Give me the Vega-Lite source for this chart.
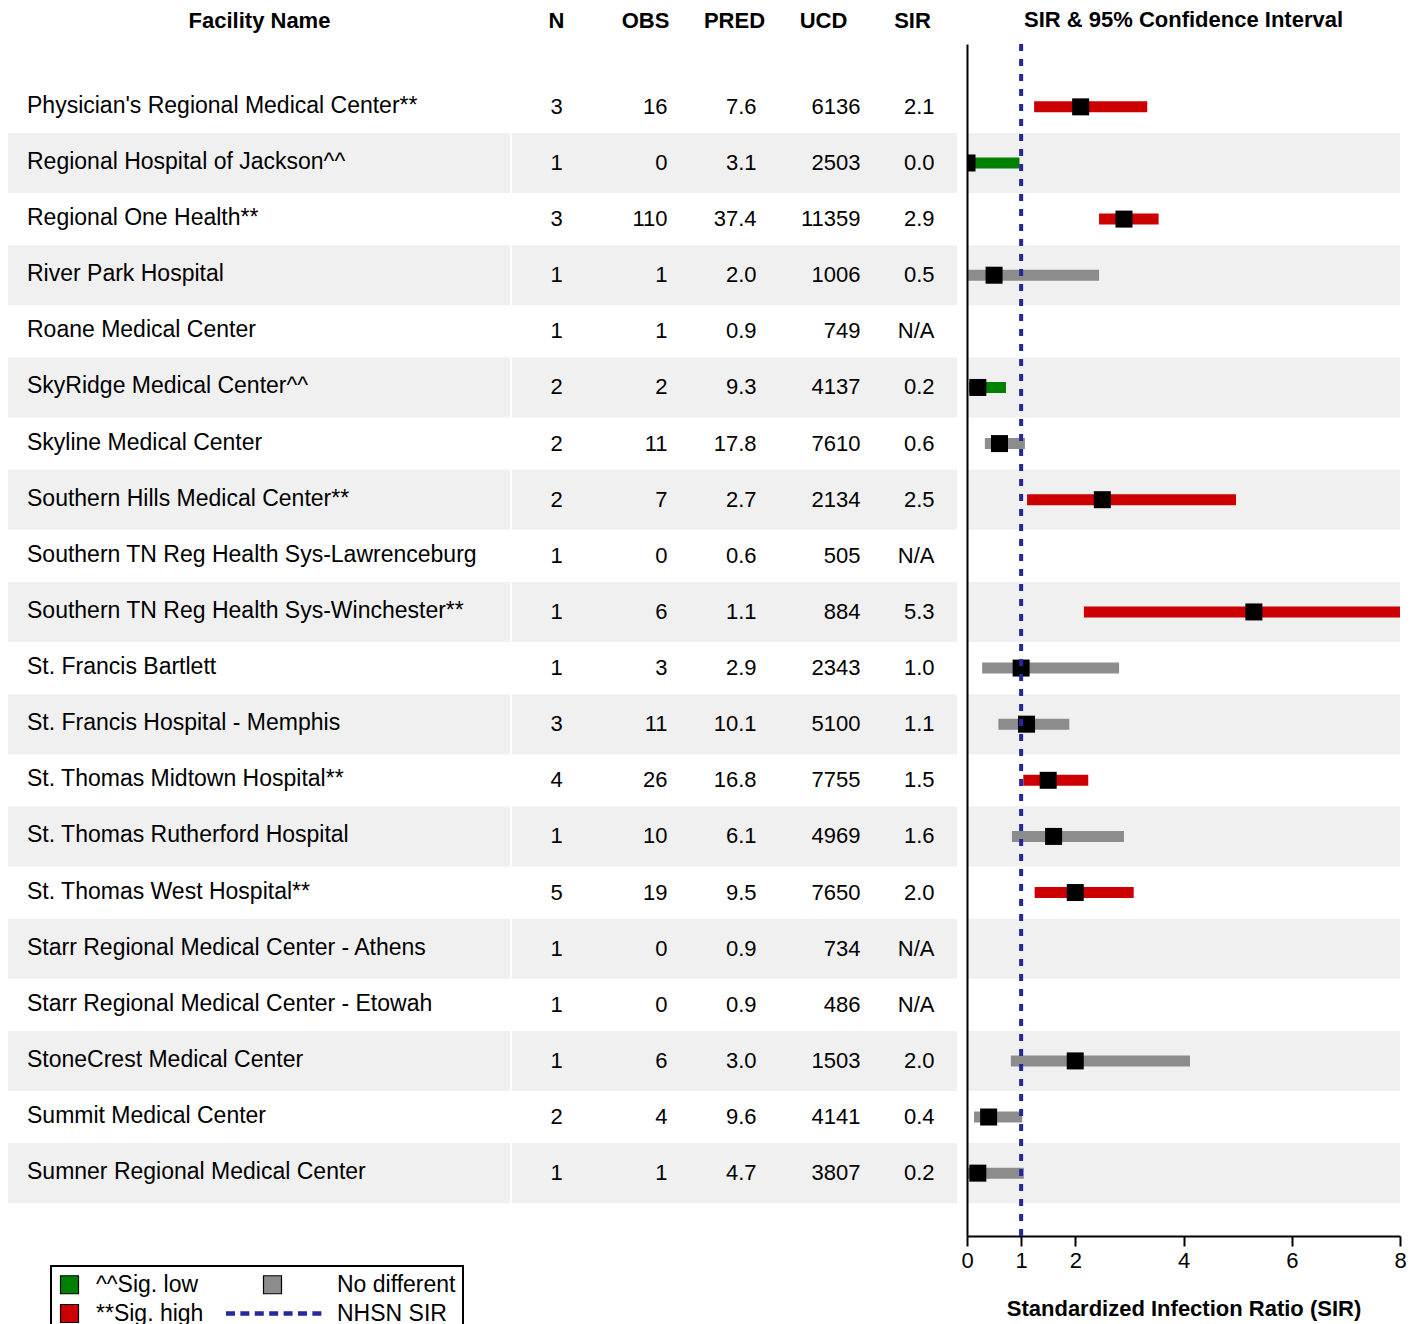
{
  "$schema": "https://vega.github.io/schema/vega-lite/v6.json",
  "padding": {"left": 8, "top": 9, "right": 0, "bottom": 0},
  "bounds": "flush",
  "spacing": 2,
  "config": {"view": {"stroke": null}, "font": "Liberation Sans"},
  "data": {"values": [
    {"Facility Name": "Physician's Regional Medical Center**", "N": "3", "OBS": "16", "PRED": "7.6", "UCD": "6136", "SIR": "2.1", "lower": 1.24, "upper": 3.33, "sig": "**Sig. high"},
    {"Facility Name": "Regional Hospital of Jackson^^", "N": "1", "OBS": "0", "PRED": "3.1", "UCD": "2503", "SIR": "0.0", "lower": 0, "upper": 0.97, "sig": "^^Sig. low"},
    {"Facility Name": "Regional One Health**", "N": "3", "OBS": "110", "PRED": "37.4", "UCD": "11359", "SIR": "2.9", "lower": 2.44, "upper": 3.54, "sig": "**Sig. high"},
    {"Facility Name": "River Park Hospital", "N": "1", "OBS": "1", "PRED": "2.0", "UCD": "1006", "SIR": "0.5", "lower": 0.02, "upper": 2.44, "sig": "No different"},
    {"Facility Name": "Roane Medical Center", "N": "1", "OBS": "1", "PRED": "0.9", "UCD": "749", "SIR": "N/A", "lower": null, "upper": null, "sig": null},
    {"Facility Name": "SkyRidge Medical Center^^", "N": "2", "OBS": "2", "PRED": "9.3", "UCD": "4137", "SIR": "0.2", "lower": 0.04, "upper": 0.72, "sig": "^^Sig. low"},
    {"Facility Name": "Skyline Medical Center", "N": "2", "OBS": "11", "PRED": "17.8", "UCD": "7610", "SIR": "0.6", "lower": 0.33, "upper": 1.07, "sig": "No different"},
    {"Facility Name": "Southern Hills Medical Center**", "N": "2", "OBS": "7", "PRED": "2.7", "UCD": "2134", "SIR": "2.5", "lower": 1.11, "upper": 4.97, "sig": "**Sig. high"},
    {"Facility Name": "Southern TN Reg Health Sys-Lawrenceburg", "N": "1", "OBS": "0", "PRED": "0.6", "UCD": "505", "SIR": "N/A", "lower": null, "upper": null, "sig": null},
    {"Facility Name": "Southern TN Reg Health Sys-Winchester**", "N": "1", "OBS": "6", "PRED": "1.1", "UCD": "884", "SIR": "5.3", "lower": 2.16, "upper": 11.0, "sig": "**Sig. high"},
    {"Facility Name": "St. Francis Bartlett", "N": "1", "OBS": "3", "PRED": "2.9", "UCD": "2343", "SIR": "1.0", "lower": 0.28, "upper": 2.81, "sig": "No different"},
    {"Facility Name": "St. Francis Hospital - Memphis", "N": "3", "OBS": "11", "PRED": "10.1", "UCD": "5100", "SIR": "1.1", "lower": 0.58, "upper": 1.89, "sig": "No different"},
    {"Facility Name": "St. Thomas Midtown Hospital**", "N": "4", "OBS": "26", "PRED": "16.8", "UCD": "7755", "SIR": "1.5", "lower": 1.04, "upper": 2.24, "sig": "**Sig. high"},
    {"Facility Name": "St. Thomas Rutherford Hospital", "N": "1", "OBS": "10", "PRED": "6.1", "UCD": "4969", "SIR": "1.6", "lower": 0.83, "upper": 2.9, "sig": "No different"},
    {"Facility Name": "St. Thomas West Hospital**", "N": "5", "OBS": "19", "PRED": "9.5", "UCD": "7650", "SIR": "2.0", "lower": 1.25, "upper": 3.08, "sig": "**Sig. high"},
    {"Facility Name": "Starr Regional Medical Center - Athens", "N": "1", "OBS": "0", "PRED": "0.9", "UCD": "734", "SIR": "N/A", "lower": null, "upper": null, "sig": null},
    {"Facility Name": "Starr Regional Medical Center - Etowah", "N": "1", "OBS": "0", "PRED": "0.9", "UCD": "486", "SIR": "N/A", "lower": null, "upper": null, "sig": null},
    {"Facility Name": "StoneCrest Medical Center", "N": "1", "OBS": "6", "PRED": "3.0", "UCD": "1503", "SIR": "2.0", "lower": 0.81, "upper": 4.12, "sig": "No different"},
    {"Facility Name": "Summit Medical Center", "N": "2", "OBS": "4", "PRED": "9.6", "UCD": "4141", "SIR": "0.4", "lower": 0.13, "upper": 1.02, "sig": "No different"},
    {"Facility Name": "Sumner Regional Medical Center", "N": "1", "OBS": "1", "PRED": "4.7", "UCD": "3807", "SIR": "0.2", "lower": 0.01, "upper": 1.05, "sig": "No different"}
  ]},
  "hconcat": [
    {
      "width": 502,
      "height": 1192,
      "transform": [
        {"window": [{"op": "row_number", "as": "rn"}]},
        {"fold": ["Facility Name"], "as": ["key", "value"]}
      ],
      "encoding": {
        "y": {"field": "Facility Name", "type": "nominal", "sort": null, "axis": null,
          "scale": {"paddingInner": 0, "paddingOuter": 0.62, "domain": ["Physician's Regional Medical Center**", "Regional Hospital of Jackson^^", "Regional One Health**", "River Park Hospital", "Roane Medical Center", "SkyRidge Medical Center^^", "Skyline Medical Center", "Southern Hills Medical Center**", "Southern TN Reg Health Sys-Lawrenceburg", "Southern TN Reg Health Sys-Winchester**", "St. Francis Bartlett", "St. Francis Hospital - Memphis", "St. Thomas Midtown Hospital**", "St. Thomas Rutherford Hospital", "St. Thomas West Hospital**", "Starr Regional Medical Center - Athens", "Starr Regional Medical Center - Etowah", "StoneCrest Medical Center", "Summit Medical Center", "Sumner Regional Medical Center"]}}
      },
      "layer": [
        {
          "transform": [{"filter": "datum.rn % 2 === 0"}],
          "mark": {"type": "rect", "color": "#F0F0F0", "height": {"band": 1.07}},
          "encoding": {}
        },
        {
          "mark": {"type": "text", "align": "left", "dx": -232, "dy": -1, "fontSize": 23, "color": "black"},
          "encoding": {
            "x": {"field": "key", "type": "nominal",
              "scale": {"range": [0, 502], "paddingInner": 0, "paddingOuter": 0},
              "axis": {"orient": "top", "title": null, "domain": false, "ticks": false, "tickSize": 0, "labelPadding": 12, "labelFontSize": 22, "labelFontWeight": "bold", "labelColor": "black", "labelAngle": 0}},
            "text": {"field": "value"}
          }
        }
      ]
    },
    {
      "width": 453,
      "height": 1192,
      "transform": [
        {"window": [{"op": "row_number", "as": "rn"}]},
        {"fold": ["N", "OBS", "PRED", "UCD", "SIR"], "as": ["key", "value"]}
      ],
      "encoding": {
        "y": {"field": "Facility Name", "type": "nominal", "sort": null, "axis": null,
          "scale": {"paddingInner": 0, "paddingOuter": 0.62, "domain": ["Physician's Regional Medical Center**", "Regional Hospital of Jackson^^", "Regional One Health**", "River Park Hospital", "Roane Medical Center", "SkyRidge Medical Center^^", "Skyline Medical Center", "Southern Hills Medical Center**", "Southern TN Reg Health Sys-Lawrenceburg", "Southern TN Reg Health Sys-Winchester**", "St. Francis Bartlett", "St. Francis Hospital - Memphis", "St. Thomas Midtown Hospital**", "St. Thomas Rutherford Hospital", "St. Thomas West Hospital**", "Starr Regional Medical Center - Athens", "Starr Regional Medical Center - Etowah", "StoneCrest Medical Center", "Summit Medical Center", "Sumner Regional Medical Center"]}},
        "x": {"field": "key", "type": "nominal", "sort": ["N", "OBS", "PRED", "UCD", "SIR"],
          "scale": {"domain": ["N", "OBS", "PRED", "UCD", "SIR"], "range": [0, 445], "paddingInner": 0, "paddingOuter": 0},
          "axis": {"orient": "top", "title": null, "domain": false, "ticks": false, "tickSize": 0, "labelPadding": 12, "labelFontSize": 22, "labelFontWeight": "bold", "labelColor": "black", "labelAngle": 0}}
      },
      "layer": [
        {
          "transform": [{"filter": "datum.rn % 2 === 0"}],
          "mark": {"type": "rect", "color": "#F0F0F0", "height": {"band": 1.07}}
        },
        {
          "transform": [{"filter": "datum.key === 'N'"}],
          "mark": {"type": "text", "align": "center", "dy": 0, "fontSize": 22, "color": "black"},
          "encoding": {"text": {"field": "value"}}
        },
        {
          "transform": [{"filter": "datum.key === 'OBS' || datum.key === 'PRED' || datum.key === 'SIR'"}],
          "mark": {"type": "text", "align": "right", "dx": 22, "dy": 0, "fontSize": 22, "color": "black"},
          "encoding": {"text": {"field": "value"}}
        },
        {
          "transform": [{"filter": "datum.key === 'UCD'"}],
          "mark": {"type": "text", "align": "right", "dx": 37, "dy": 0, "fontSize": 22, "color": "black"},
          "encoding": {"text": {"field": "value"}}
        }
      ]
    },
    {
      "width": 433,
      "height": 1192,
      "title": {"text": "SIR & 95% Confidence Interval", "frame": "group", "anchor": "middle", "fontSize": 22, "fontWeight": "bold", "color": "black", "offset": 10},
      "transform": [{"window": [{"op": "row_number", "as": "rn"}]}],
      "layer": [
        {
          "transform": [{"filter": "datum.rn % 2 === 0"}],
          "mark": {"type": "rect", "color": "#F0F0F0", "height": {"band": 1.07}},
          "encoding": {
            "y": {"field": "Facility Name", "type": "nominal", "sort": null,
              "axis": {"title": null, "labels": false, "ticks": false, "domain": true, "domainColor": "black", "domainWidth": 2, "grid": false},
              "scale": {"paddingInner": 0, "paddingOuter": 0.62, "domain": ["Physician's Regional Medical Center**", "Regional Hospital of Jackson^^", "Regional One Health**", "River Park Hospital", "Roane Medical Center", "SkyRidge Medical Center^^", "Skyline Medical Center", "Southern Hills Medical Center**", "Southern TN Reg Health Sys-Lawrenceburg", "Southern TN Reg Health Sys-Winchester**", "St. Francis Bartlett", "St. Francis Hospital - Memphis", "St. Thomas Midtown Hospital**", "St. Thomas Rutherford Hospital", "St. Thomas West Hospital**", "Starr Regional Medical Center - Athens", "Starr Regional Medical Center - Etowah", "StoneCrest Medical Center", "Summit Medical Center", "Sumner Regional Medical Center"]}}
          }
        },
        {
          "mark": {"type": "bar", "height": 11, "clip": true},
          "encoding": {
            "y": {"field": "Facility Name", "type": "nominal", "sort": null},
            "x": {"field": "lower", "type": "quantitative", "title": "Standardized Infection Ratio (SIR)",
              "scale": {"domain": [0, 8], "nice": false, "zero": false},
              "axis": {"values": [0, 1, 2, 4, 6, 8], "grid": false, "labelFontSize": 22, "labelColor": "black", "tickColor": "black", "tickSize": 10, "tickWidth": 2, "domainColor": "black", "domainWidth": 2, "labelPadding": 4, "labelFlush": false, "titleFontSize": 22, "titleFontWeight": "bold", "titleColor": "black", "titlePadding": 27}},
            "x2": {"field": "upper"},
            "color": {"field": "sig", "type": "nominal",
              "scale": {"domain": ["^^Sig. low", "No different", "**Sig. high", "NHSN SIR"], "range": ["#008000", "#8C8C8C", "#CC0000", "#26269E"]},
              "legend": {"orient": "none", "legendX": 43, "legendY": 1222, "direction": "horizontal", "columns": 2, "title": null,
                "strokeColor": "black", "padding": 7, "symbolSize": 324, "symbolType": "square",
                "symbolStrokeColor": "black", "symbolStrokeWidth": 1.2, "symbolOpacity": 1,
                "labelFontSize": 23, "labelColor": "black", "labelOffset": 15, "rowPadding": 5, "columnPadding": 19,
                "encode": {
                  "symbols": {"update": {
                    "shape": {"signal": "datum.value === 'NHSN SIR' ? 'M-5.17,-0.24h1v0.48h-1Z M-3.57,-0.24h1v0.48h-1Z M-1.97,-0.24h1v0.48h-1Z M-0.37,-0.24h1v0.48h-1Z M1.23,-0.24h1v0.48h-1Z M2.83,-0.24h1v0.48h-1Z M4.43,-0.24h1v0.48h-1Z' : 'square'"},
                    "stroke": {"signal": "datum.value === 'NHSN SIR' ? 'transparent' : 'black'"}
                  }},
                  "labels": {"update": {"dx": {"signal": "datum.value === 'No different' || datum.value === 'NHSN SIR' ? 38 : 0"}}},
                  "legend": {"update": {"strokeWidth": {"value": 2}}}
                }}}
          }
        },
        {
          "mark": {"type": "point", "shape": "square", "filled": true, "color": "black", "opacity": 1, "size": 289, "clip": true},
          "encoding": {
            "y": {"field": "Facility Name", "type": "nominal", "sort": null},
            "x": {"field": "SIR", "type": "quantitative", "title": "Standardized Infection Ratio (SIR)"}
          }
        },
        {
          "data": {"values": [{"ref": 1}]},
          "mark": {"type": "rule", "color": "#26269E", "strokeWidth": 4, "strokeDash": [7, 8]},
          "encoding": {"x": {"field": "ref", "type": "quantitative", "title": "Standardized Infection Ratio (SIR)"}}
        }
      ]
    }
  ]
}
